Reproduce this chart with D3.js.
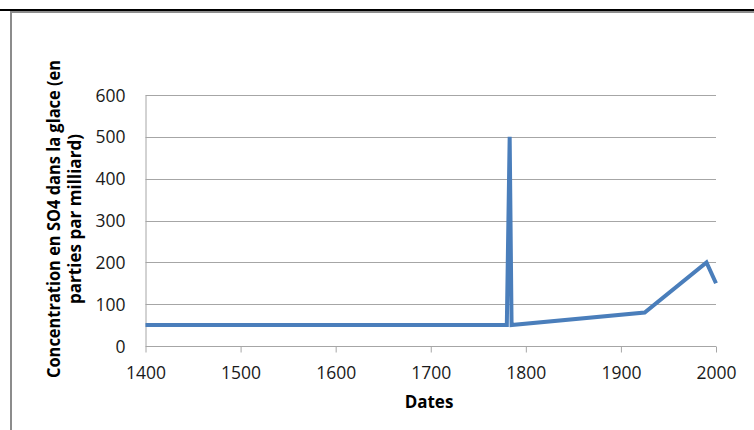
<!DOCTYPE html>
<html><head><meta charset="utf-8">
<script src="https://cdn.jsdelivr.net/npm/d3@7"></script>
<style>body{margin:0;background:#fff}svg{display:block;font-family:"Open Sans",sans-serif}</style>
</head><body><svg id="c" width="754" height="430"></svg>
<script>
const years = [1400, 1780, 1783, 1785, 1925, 1990, 2000];
const so4 = [50, 50, 500, 50, 80, 200, 150];
const yTicks = [0, 100, 200, 300, 400, 500, 600];
const xTicks = [1400, 1500, 1600, 1700, 1800, 1900, 2000];
const yTitle = ["Concentration en SO4 dans la glace (en", "parties par milliard)"];
const xTitle = "Dates";

const svg = d3.select("#c");
// frame lines
svg.append("line").attr("x1",0).attr("x2",754).attr("y1",10).attr("y2",10).attr("stroke","#000").attr("stroke-width",2);
svg.append("line").attr("x1",10).attr("x2",754).attr("y1",12).attr("y2",12).attr("stroke","#8c8c8c").attr("stroke-width",2);
svg.append("line").attr("x1",11).attr("x2",11).attr("y1",11).attr("y2",430).attr("stroke","#8c8c8c").attr("stroke-width",2);

const x = d3.scaleLinear().domain([1400,2000]).range([145.5,716]);
const y = d3.scaleLinear().domain([0,600]).range([346,95]);

// gridlines
svg.append("g").selectAll("line").data(yTicks.filter(d=>d>0)).join("line")
  .attr("x1",x(1400)).attr("x2",x(2000)).attr("y1",d=>Math.round(y(d))+0.5).attr("y2",d=>Math.round(y(d))+0.5)
  .attr("stroke","#a6a6a6").attr("stroke-width",1);

// y axis
const ya = svg.append("g").attr("transform",`translate(${x(1400)},0)`)
  .call(d3.axisLeft(y).tickValues(yTicks).tickSize(0).tickPadding(20));
ya.select(".domain").attr("stroke","#a6a6a6");
ya.selectAll("text").attr("font-size",17.5).attr("fill","#1a1a1a").attr("font-family","Open Sans").attr("dy","0.35em");

// x axis
const xa = svg.append("g").attr("transform",`translate(0,${y(0)+0.5})`)
  .call(d3.axisBottom(x).tickValues(xTicks).tickSize(6).tickPadding(14).tickFormat(d3.format("d")));
xa.select(".domain").attr("stroke","#a6a6a6").attr("d",`M${x(1400)},0H${x(2000)}`);
xa.selectAll(".tick line").attr("stroke","#a6a6a6");
xa.selectAll("text").attr("font-size",17.5).attr("fill","#1a1a1a").attr("font-family","Open Sans").attr("dy","0").attr("y",32);

// line
const data = years.map((d,i)=>({x:d,y:so4[i]}));
svg.append("path").datum(data).attr("fill","none").attr("stroke","#4a7ebb").attr("stroke-width",4)
  .attr("stroke-linejoin","miter").attr("stroke-miterlimit",30)
  .attr("d",d3.line().x(d=>x(d.x)).y(d=>y(d.y)));

// titles
svg.append("text").attr("x",429).attr("y",408).attr("text-anchor","middle")
  .attr("font-weight","bold").attr("font-size",17).attr("fill","#000").text(xTitle);
const yt = svg.append("text").attr("transform","translate(0,219) rotate(-90)").attr("text-anchor","middle")
  .attr("font-weight","bold").attr("font-size",17).attr("fill","#000");
yt.append("tspan").attr("x",0).attr("y",60).attr("textLength",318).attr("lengthAdjust","spacingAndGlyphs").text(yTitle[0]);
yt.append("tspan").attr("x",0).attr("y",81).attr("textLength",170).attr("lengthAdjust","spacingAndGlyphs").text(yTitle[1]);
</script></body></html>
